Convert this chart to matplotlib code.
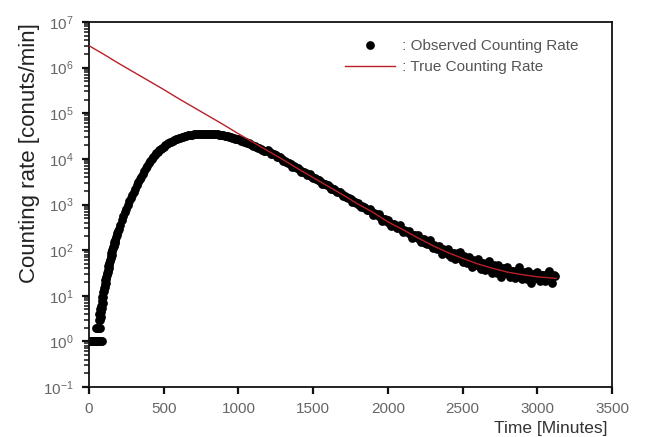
import matplotlib
matplotlib.use("Agg")
import matplotlib.pyplot as plt
from matplotlib.ticker import FixedLocator, NullFormatter, LogFormatterSciNotation

plt.rcParams['font.family'] = ['Liberation Sans', 'DejaVu Sans']

# ---------------- Observed counting rate (counts/min) ----
# early, low-count part
obs_time_early = [0, 5, 10, 15, 20, 25, 30, 35, 40, 45, 50, 55, 60, 65, 70, 75, 80, 85,
                  50, 55, 60, 65, 70, 75,
                  65, 70, 72, 75, 77, 80, 82, 85, 87, 90, 92, 95, 97, 100, 102, 105,
                  107, 110, 112, 115, 117, 120, 122, 125, 127, 130, 132, 135, 137,
                  140, 142, 145, 147, 150, 152, 155, 157, 160, 162, 165, 167, 170,
                  172, 175, 177, 180, 185, 190, 195]
obs_rate_early = [1, 1, 1, 1, 1, 1, 1, 1, 1, 1, 1, 1, 1, 1, 1, 1, 1, 1,
                  2, 2, 2, 2, 2, 2,
                  3.0, 4.0, 3.0, 5.0, 3.5, 6.0, 4.5, 7.5, 5.5, 9.5, 7.0, 12, 9.5, 14.5,
                  12.5, 18, 15.5, 22, 19.5, 26, 23.5, 31, 28, 37, 34, 44, 40, 52, 48,
                  62, 57, 74, 68, 87, 80, 100, 94, 117, 110, 132, 125, 151,
                  143, 170, 162, 191, 214, 240, 269]

# rise to the maximum and start of decay (every 10 min)
obs_time_mid = [200, 210, 220, 230, 240, 250, 260, 270, 280, 290,
                300, 310, 320, 330, 340, 350, 360, 370, 380, 390,
                400, 410, 420, 430, 440, 450, 460, 470, 480, 490,
                500, 510, 520, 530, 540, 550, 560, 570, 580, 590,
                600, 610, 620, 630, 640, 650, 660, 670, 680, 690,
                700, 710, 720, 730, 740, 750, 760, 770, 780, 790,
                800, 810, 820, 830, 840, 850, 860, 870, 880, 890,
                900, 910, 920, 930, 940, 950, 960, 970, 980, 990,
                1000, 1010, 1020, 1030, 1040, 1050, 1060, 1070, 1080, 1090,
                1100, 1110, 1120, 1130, 1140, 1150, 1160, 1170, 1180]
obs_rate_mid = [295, 363, 447, 550, 676, 813, 977, 1175, 1380, 1622,
                1905, 2239, 2630, 3055, 3548, 4074, 4677, 5370, 6166, 7000,
                7943, 8913, 10000, 10960, 12020, 13180, 14290, 15310, 16410, 17580,
                18620, 19720, 20890, 21880, 22910, 23990, 24830, 25700, 26610, 27540,
                28510, 29170, 29850, 30550, 31260, 31990, 32730, 33110, 33650, 34120,
                34510, 34830, 35160, 35400, 35560, 35730, 35810, 35890, 35890, 35810,
                35730, 35560, 35400, 35160, 34910, 34590, 34280, 33880, 33500, 33040,
                32580, 32140, 31620, 31050, 30480, 29850, 29240, 28580, 27930, 27290,
                26610, 25940, 25230, 24550, 23820, 23120, 22440, 21730, 21040, 20320,
                19630, 18970, 18280, 17620, 16980, 16370, 15780, 15210, 14660]

# exponential decay and noisy tail (every 20 min)
obs_time_late = [1200, 1220, 1240, 1260, 1280, 1300, 1320, 1340, 1360, 1380,
                 1400, 1420, 1440, 1460, 1480, 1500, 1520, 1540, 1560, 1580,
                 1600, 1620, 1640, 1660, 1680, 1700, 1720, 1740, 1760, 1780,
                 1800, 1820, 1840, 1860, 1880, 1900, 1920, 1940, 1960, 1980,
                 2000, 2020, 2040, 2060, 2080, 2100, 2120, 2140, 2160, 2180,
                 2200, 2220, 2240, 2260, 2280, 2300, 2320, 2340, 2360, 2380,
                 2400, 2420, 2440, 2460, 2480, 2500, 2520, 2540, 2560, 2580,
                 2600, 2620, 2640, 2660, 2680, 2700, 2720, 2740, 2760, 2780,
                 2800, 2820, 2840, 2860, 2880, 2900, 2920, 2940, 2960, 2980,
                 3000, 3020, 3040, 3060, 3080, 3100, 3120]
obs_rate_late = [15500, 12900, 12700, 11100, 11200, 9120, 8710, 8320, 6760, 6760,
                 6310, 5270, 5180, 4530, 4550, 3720, 3560, 3420, 2790, 2810,
                 2630, 2200, 2160, 1890, 1900, 1550, 1480, 1410, 1150, 1150,
                 1100, 879, 897, 771, 815, 603, 614, 625, 426, 486,
                 468, 344, 378, 311, 362, 251, 259, 268, 185, 214,
                 214, 150, 171, 137, 167, 110, 117, 126, 83, 102,
                 107, 69.8, 86.7, 67.9, 92.5, 55, 62.5, 71.1, 42.5, 58.1,
                 63.1, 38, 51.3, 38.9, 58.9, 31.6, 38.4, 46.6, 25.2, 38.5,
                 41.7, 25.6, 35.2, 27.2, 41.9, 22.9, 28.3, 35, 19.3, 30.1,
                 33.1, 20.6, 28.7, 22.5, 35.2, 19.5, 27.2]

# in-between readings of the decay part (offset by 10 min)
obs_time_fill = [1210, 1230, 1250, 1270, 1290, 1310, 1330, 1350, 1370, 1390,
                 1410, 1430, 1450, 1470, 1490, 1510, 1530, 1550, 1570, 1590,
                 1610, 1630, 1650, 1670, 1690, 1710, 1730, 1750, 1770, 1790,
                 1810, 1830, 1850, 1870, 1890, 1910, 1930, 1950, 1970, 1990,
                 2010, 2030, 2050, 2070, 2090, 2110, 2130, 2150, 2170, 2190,
                 2210, 2230, 2250, 2270, 2290, 2310, 2330, 2350, 2370, 2390,
                 2410, 2430, 2450, 2470, 2490, 2510, 2530, 2550, 2570, 2590,
                 2610, 2630, 2650, 2670, 2690, 2710, 2730, 2750, 2770, 2790,
                 2810, 2830, 2850, 2870, 2890, 2910, 2930, 2950, 2970, 2990,
                 3010, 3030, 3050, 3070, 3090, 3110]
obs_rate_fill = [14160, 12970, 11890, 10890, 9980, 9120, 8320, 7590, 6920, 6310,
                 5770, 5280, 4840, 4440, 4060, 3720, 3410, 3130, 2860, 2620,
                 2400, 2200, 2020, 1850, 1690, 1550, 1410, 1290, 1175, 1070,
                 982, 904, 832, 766, 705, 644, 585, 531, 482, 438,
                 401, 371, 343, 317, 293, 270, 249, 229, 211, 194,
                 171, 173, 140, 155, 127, 131, 105, 106, 104, 88.9,
                 79.8, 88.3, 65.3, 84.9, 64.9, 73.1, 53.5, 57.5, 60, 48.3,
                 44.2, 51.9, 36.3, 52.5, 38.3, 46.1, 31.9, 36.3, 39.6, 31,
                 29.4, 35.2, 25.1, 37, 27.5, 33.7, 23.8, 27.5, 30.6, 24.4,
                 23.6, 28.6, 20.7, 30.8, 23.2, 28.8]

# ---------------- True counting rate (counts/min) --------
true_time = [0, 100, 200, 300, 400, 500, 600, 700, 800, 900, 1000, 1100,
             1200, 1300, 1400, 1500, 1600, 1700, 1800, 1900, 2000, 2100,
             2200, 2300, 2400, 2500, 2600, 2700, 2800, 2900, 3000, 3100, 3125]
true_rate = [3.02e6, 1.95e6, 1.23e6, 7.94e5, 5.13e5, 3.31e5, 2.09e5, 1.35e5,
             8.71e4, 5.62e4, 3.55e4, 2.29e4, 1.48e4, 9.55e3, 6.03e3, 3.89e3,
             2.51e3, 1.62e3, 1.02e3, 676, 417, 282, 186, 126, 89, 66, 50, 40,
             33, 29, 26, 24.5, 24]

xticks = [0, 500, 1000, 1500, 2000, 2500, 3000, 3500]
yticks = [1e-1, 1e0, 1e1, 1e2, 1e3, 1e4, 1e5, 1e6, 1e7]

obs_time = obs_time_early + obs_time_mid + obs_time_late + obs_time_fill
obs_rate = obs_rate_early + obs_rate_mid + obs_rate_late + obs_rate_fill

fig = plt.figure(figsize=(6.46, 4.37), dpi=100)
ax = fig.add_axes([89/646, 1-387/437, (612-89)/646, (387-22)/437])

ax.plot(obs_time, obs_rate, 'o', color='black', markersize=6.3,
        markeredgewidth=0, label=' : Observed Counting Rate', zorder=2)
ax.plot(true_time, true_rate, '-', color='#b82028', lw=1.0,
        label=' : True Counting Rate', zorder=3)

ax.set_yscale('log')
ax.set_ylim(1e-1, 1e7)
ax.set_xlim(0, 3500)
ax.xaxis.set_major_locator(FixedLocator(xticks))
ax.yaxis.set_major_locator(FixedLocator(yticks))
ax.yaxis.set_major_formatter(LogFormatterSciNotation())
minor_y = [m * d for d in yticks[:-1] for m in range(2, 10)]
ax.yaxis.set_minor_locator(FixedLocator(minor_y))
ax.yaxis.set_minor_formatter(NullFormatter())

for s in ['top', 'right', 'left', 'bottom']:
    ax.spines[s].set_linewidth(1.3)
    ax.spines[s].set_color('#111111')

ax.tick_params(axis='both', which='major', direction='out', length=5, width=1.6,
               colors='#111111', labelcolor='#666666', labelsize=11)
ax.tick_params(axis='y', which='minor', direction='out', length=3.5, width=1.1,
               colors='#111111')
ax.tick_params(axis='x', which='major', pad=6)
ax.tick_params(axis='y', which='major', pad=6)

ax.set_ylabel('Counting rate [conuts/min]', fontsize=16, color='#222222')
ax.yaxis.set_label_coords(-0.094, 0.64)
fig.text(607/646, 1-428/437, 'Time [Minutes]', fontsize=12.5, color='#333333',
         ha='right', va='center')

leg = ax.legend(loc='upper left', frameon=False, fontsize=11,
                handlelength=3.3, handletextpad=0.15, borderpad=0.0,
                borderaxespad=0.0, labelspacing=0.45,
                bbox_to_anchor=((345-89)/523, (387-39)/365))
for t in leg.get_texts():
    t.set_color('#555555')

fig.savefig('out.png', dpi=100)
